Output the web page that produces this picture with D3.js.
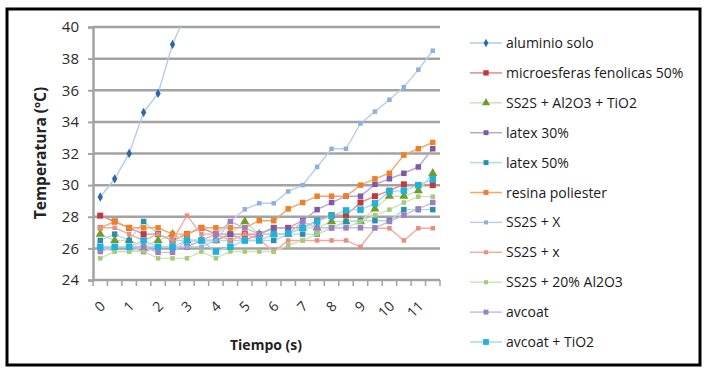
<!DOCTYPE html>
<html>
<head>
<meta charset="utf-8">
<script src="https://cdn.jsdelivr.net/npm/d3@7"></script>
<style>
  body { margin: 0; background: #fff; }
  text { font-family: "Open Sans", sans-serif; fill: #222; }
</style>
</head>
<body>
<script>
// tick labels on the category axis (every second category is labelled)
const categories = d3.range(24);
const tickLabels = ["0", "1", "2", "3", "4", "5", "6", "7", "8", "9", "10", "11"];

const seriesNames = [
  "aluminio solo", "microesferas fenolicas 50%", "SS2S + Al2O3 + TiO2",
  "latex 30%", "latex 50%", "resina poliester", "SS2S + X", "SS2S + x",
  "SS2S + 20% Al2O3", "avcoat", "avcoat + TiO2"
];

const aluminioSolo = [29.25, 30.4, 32.0, 34.6, 35.8, 38.9, 41.0];
const microesferas = [28.07, 27.7, 27.3, 26.9, 26.9, 26.5, 26.9, 27.3, 26.9, 26.9, 26.9, 26.9,
  27.3, 27.3, 27.3, 27.75, 28.1, 28.1, 28.9, 29.3, 29.65, 30.05, 30.0, 30.0];
const ss2sAl2o3Tio2 = [26.9, 26.5, 26.5, 26.1, 26.5, 26.9, 26.5, 26.5, 26.5, 26.9, 27.7, 26.9,
  26.9, 26.9, 27.3, 27.3, 27.7, 27.7, 27.7, 28.5, 29.3, 29.3, 29.65, 30.75];
const latex30 = [26.1, 26.1, 26.1, 25.8, 26.1, 26.1, 26.1, 26.5, 26.5, 26.9, 26.5, 26.9,
  27.3, 27.3, 27.75, 28.45, 28.9, 29.3, 29.3, 30.05, 30.4, 30.75, 31.15, 32.3];
const latex50 = [26.5, 26.9, 26.5, 27.7, 26.9, 26.5, 26.5, 26.5, 26.5, 26.5, 26.5, 26.5,
  26.5, 26.9, 26.9, 26.9, 27.3, 27.7, 27.75, 27.75, 27.75, 28.45, 28.45, 28.45];
const resina = [27.3, 27.7, 27.3, 27.3, 27.3, 26.9, 26.9, 27.3, 27.3, 27.3, 27.3, 27.75,
  27.75, 28.5, 28.9, 29.3, 29.3, 29.3, 30.0, 30.4, 30.75, 31.9, 32.3, 32.7];
const ss2sX = [26.1, 25.8, 25.8, 26.1, 26.1, 26.1, 26.1, 26.1, 26.5, 27.7, 28.47, 28.85,
  28.85, 29.6, 30.0, 31.15, 32.3, 32.3, 33.9, 34.65, 35.4, 36.2, 37.3, 38.5];
const ss2sx = [27.3, 27.3, 26.9, 26.5, 26.9, 26.5, 28.07, 26.9, 26.9, 26.5, 26.9, 26.57,
  25.8, 26.5, 26.5, 26.5, 26.5, 26.5, 26.1, 27.27, 27.27, 26.5, 27.27, 27.27];
const ss2s20Al2o3 = [25.37, 25.8, 25.8, 25.8, 25.37, 25.37, 25.37, 25.8, 25.37, 25.8, 25.8, 25.8,
  25.8, 26.2, 26.5, 26.9, 27.3, 27.3, 27.7, 28.1, 28.45, 28.9, 29.27, 29.27];
const avcoat = [25.8, 26.1, 26.1, 26.1, 25.75, 25.75, 26.5, 26.5, 26.9, 27.7, 27.3, 26.9,
  26.9, 26.9, 27.7, 27.3, 27.3, 27.3, 27.3, 27.3, 27.7, 28.1, 28.5, 28.9];
const avcoatTio2 = [26.1, 26.1, 26.1, 26.5, 26.1, 26.1, 26.5, 26.5, 25.8, 26.1, 26.5, 26.5,
  26.9, 26.95, 27.3, 27.7, 28.05, 28.4, 28.45, 28.85, 29.6, 29.65, 30.0, 30.37];

const seriesValues = [aluminioSolo, microesferas, ss2sAl2o3Tio2, latex30, latex50, resina,
  ss2sX, ss2sx, ss2s20Al2o3, avcoat, avcoatTio2];

// marker colour, line colour, marker size, marker shape
const styles = [
  {m: "#2d67ad", l: "#b3cbe6", s: 5, sym: d3.symbolDiamond},
  {m: "#c0393b", l: "#e48a88", s: 6, sym: d3.symbolSquare},
  {m: "#6f9c2f", l: "#cfe0b8", s: 6, sym: d3.symbolTriangle},
  {m: "#7b5aa6", l: "#b7a6d2", s: 5.5, sym: d3.symbolSquare},
  {m: "#2a8fa8", l: "#b0dbe6", s: 5.5, sym: d3.symbolSquare},
  {m: "#f07f2a", l: "#f6a66c", s: 5.5, sym: d3.symbolSquare},
  {m: "#8fb0dc", l: "#b9cee9", s: 4.5, sym: d3.symbolSquare},
  {m: "#ee8c7c", l: "#f3aaa6", s: 4.5, sym: d3.symbolSquare},
  {m: "#a6ca76", l: "#cfe3b8", s: 4.5, sym: d3.symbolSquare},
  {m: "#9a80c0", l: "#cbbde2", s: 5.5, sym: d3.symbolSquare},
  {m: "#1fb2da", l: "#a3dbec", s: 6.5, sym: d3.symbolSquare}
];

const width = 707, height = 368;
const svg = d3.select("body").append("svg")
  .attr("width", width)
  .attr("height", height);

// outer frame
svg.append("rect")
  .attr("x", 7).attr("y", 9).attr("width", 693).attr("height", 356)
  .attr("fill", "none").attr("stroke", "#000").attr("stroke-width", 3);

const x = d3.scaleBand().domain(categories).range([93, 440]);
const y = d3.scaleLinear().domain([24, 40]).range([280, 27]);
const cx = i => x(i) + x.bandwidth() / 2;

// gridlines
svg.append("g")
  .selectAll("line")
  .data(d3.range(26, 41, 2))
  .join("line")
  .attr("x1", 93).attr("x2", 440)
  .attr("y1", d => y(d)).attr("y2", d => y(d))
  .attr("stroke", "#a3a3a3").attr("stroke-width", 2.5);

// y axis
const yAxis = svg.append("g")
  .attr("transform", "translate(93,0)")
  .call(d3.axisLeft(y).tickValues(d3.range(24, 41, 2)).tickSize(5).tickPadding(9));
yAxis.select(".domain").attr("stroke", "#a3a3a3").attr("stroke-width", 2.5);
yAxis.selectAll(".tick line").attr("stroke", "#a3a3a3").attr("stroke-width", 2);
yAxis.selectAll(".tick text")
  .style("font-size", "15px").style("fill", "#2a2a2a");

// x axis
const xAxis = svg.append("g").attr("transform", "translate(0,280)");
xAxis.append("line")
  .attr("x1", 93).attr("x2", 440)
  .attr("stroke", "#a3a3a3").attr("stroke-width", 2.5);
xAxis.selectAll("line.tk")
  .data(d3.range(25))
  .join("line")
  .attr("class", "tk")
  .attr("x1", d => 93 + d * x.step()).attr("x2", d => 93 + d * x.step())
  .attr("y1", 0).attr("y2", 6)
  .attr("stroke", "#a3a3a3").attr("stroke-width", 1.5);
xAxis.selectAll("text")
  .data(tickLabels)
  .join("text")
  .attr("transform", (d, k) => `translate(${cx(k * 2) + 6},${27}) rotate(-45)`)
  .attr("text-anchor", "end")
  .style("font-size", "14px").style("fill", "#2a2a2a")
  .text(d => d);

// axis titles
svg.append("text")
  .attr("transform", "translate(46,153) rotate(-90)")
  .attr("text-anchor", "middle")
  .style("font-size", "15.5px").style("font-weight", "bold")
  .text("Temperatura (ºC)");
svg.append("text")
  .attr("x", 266).attr("y", 350)
  .attr("text-anchor", "middle")
  .style("font-size", "14px").style("font-weight", "bold")
  .text("Tiempo (s)");

svg.append("clipPath").attr("id", "plot")
  .append("rect").attr("x", 88).attr("y", 27).attr("width", 360).attr("height", 260);

const line = d3.line().x((d, i) => cx(i)).y(d => y(d));
const plot = svg.append("g").attr("clip-path", "url(#plot)");

seriesValues.forEach((vals, k) => {
  const st = styles[k];
  const g = plot.append("g");
  g.append("path")
    .attr("d", line(vals))
    .attr("fill", "none")
    .attr("stroke", st.l)
    .attr("stroke-width", 1.4);
  g.selectAll("path.pt")
    .data(vals)
    .join("path")
    .attr("class", "pt")
    .attr("transform", (d, i) => `translate(${cx(i)},${y(d)})`)
    .attr("d", d3.symbol(st.sym, st.s * st.s))
    .attr("fill", st.m);
});

// legend
const legend = svg.append("g");
seriesNames.forEach((name, k) => {
  const st = styles[k];
  const ly = 43 + k * 29.9;
  legend.append("line")
    .attr("x1", 470).attr("x2", 502).attr("y1", ly).attr("y2", ly)
    .attr("stroke", st.l).attr("stroke-width", 1.5);
  legend.append("path")
    .attr("transform", `translate(486,${ly})`)
    .attr("d", d3.symbol(st.sym, st.s * st.s * 0.8))
    .attr("fill", st.m);
  legend.append("text")
    .attr("x", 506).attr("y", ly + 5)
    .style("font-size", "14px").style("fill", "#1a1a1a")
    .text(name);
});
</script>
</body>
</html>
